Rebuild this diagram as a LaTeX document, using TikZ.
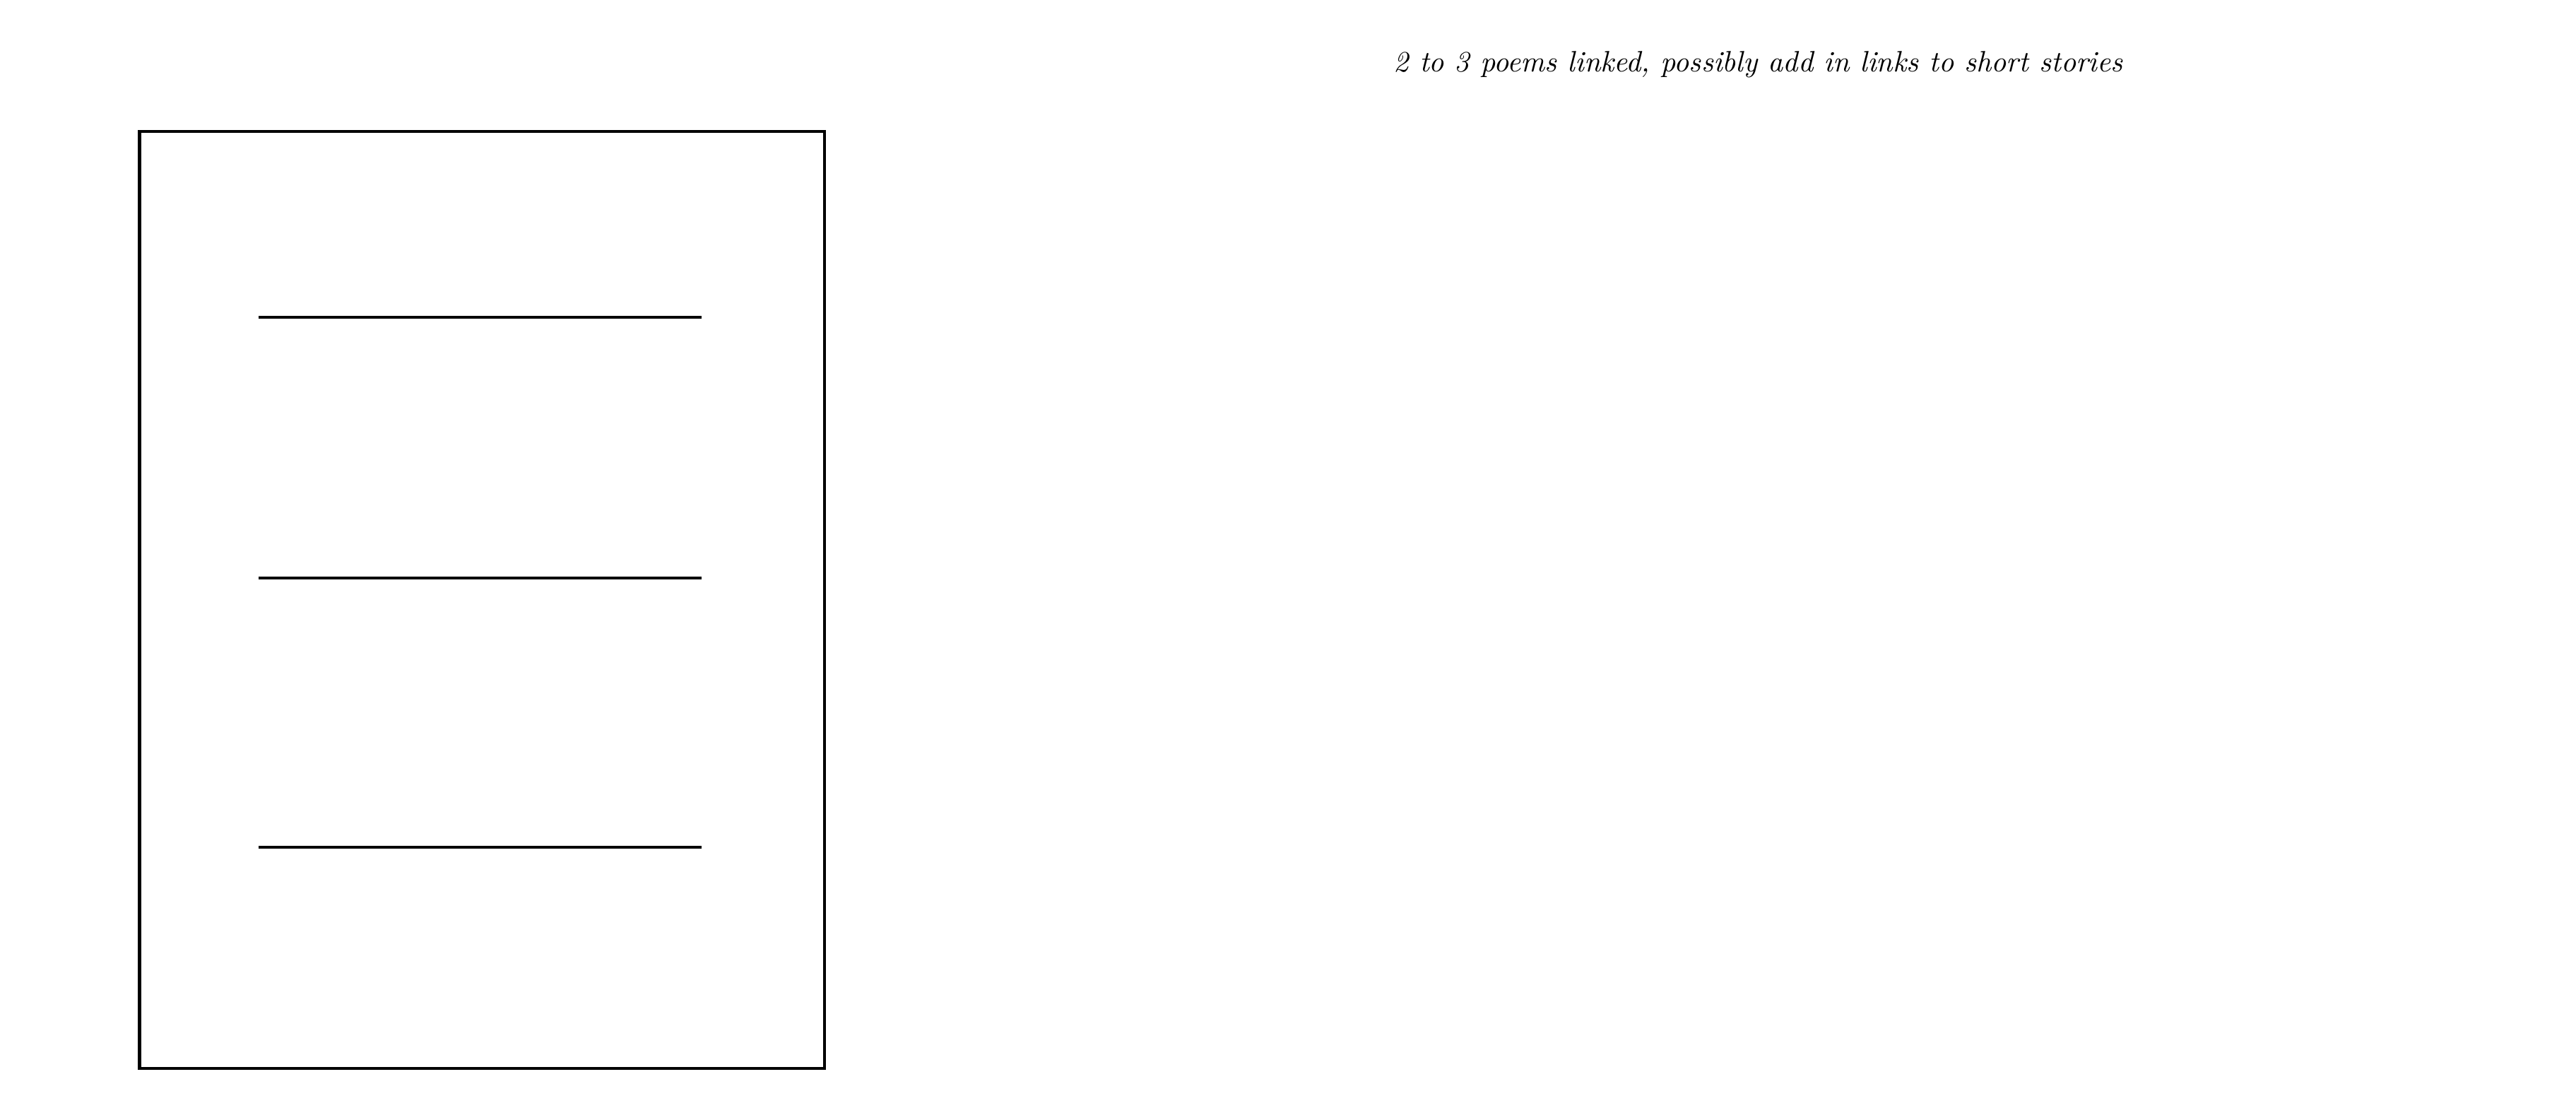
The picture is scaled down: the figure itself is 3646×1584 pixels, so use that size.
\documentclass[tikz,border=0pt]{standalone}
\usepackage{graphicx}
\begin{document}
\begin{tikzpicture}[x=0.25pt,y=-0.25pt,
  frame/.style={draw=black,line width=1.15pt},
  rule/.style={draw=black,line width=1.15pt},
  note/.style={inner sep=0pt,anchor=base west}]
\useasboundingbox[fill=white] (0,0) rectangle (3646,1584);
\draw[frame] (197.5,186) rectangle (1167,1512);
\draw[rule] (366,449) -- (993,449);
\draw[rule] (366,818) -- (993,818);
\draw[rule] (366,1199) -- (993,1199);
\node[note] (caption) at (1972,102) {\resizebox{258pt}{!}{\itshape 2 to 3 poems linked, possibly add in links to short stories}};
\end{tikzpicture}
\end{document}
